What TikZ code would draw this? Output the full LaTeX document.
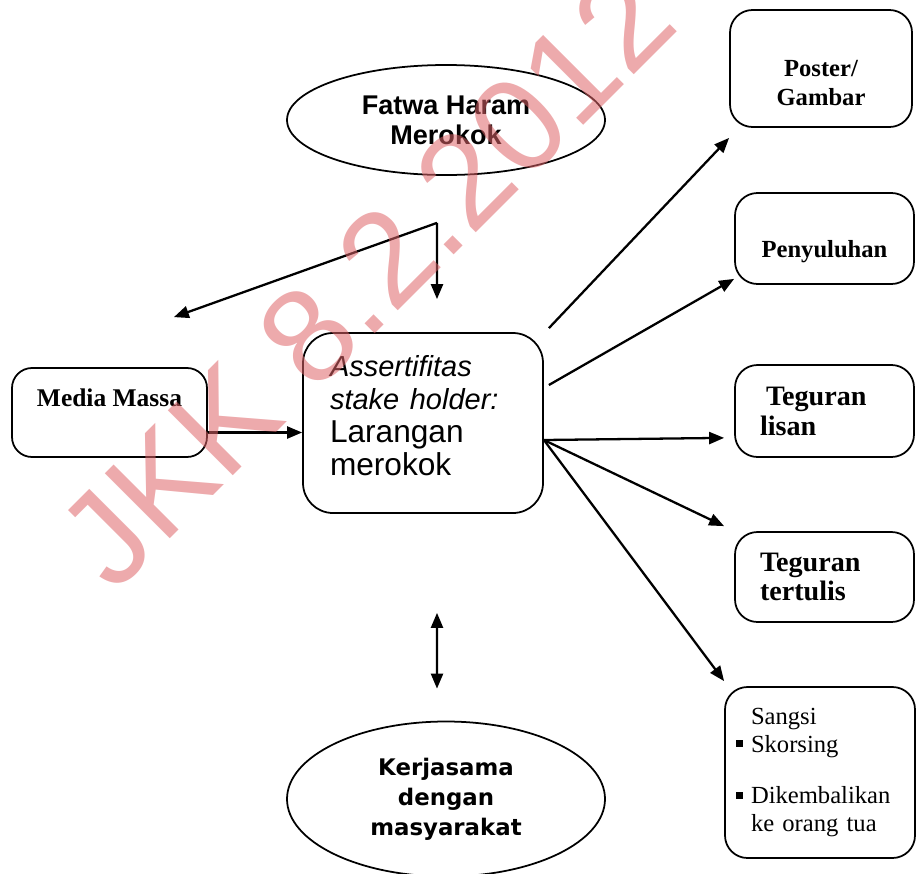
\documentclass[tikz,border=0pt]{standalone}
\usepackage{fontspec}
\setmainfont{Liberation Serif}
\setsansfont{Liberation Sans}
\newfontfamily\dejavu{DejaVu Sans}
\usetikzlibrary{positioning,shapes.geometric,arrows.meta}
\definecolor{merahmuda}{RGB}{222,100,104}
\newcommand{\butir}{\makebox[0.3cm][l]{\rule[0.45ex]{0.6ex}{0.6ex}}}

\begin{document}
\begin{tikzpicture}[
	kotak/.style={draw, line width=1pt, rounded corners=0.45cm},
	elips/.style={draw, ellipse, line width=1pt, inner sep=0pt, align=center},
	panah/.style={line width=1.3pt, -{Triangle[length=0.3cm,width=0.24cm]}},
	panahdua/.style={line width=1.3pt, {Triangle[length=0.3cm,width=0.24cm]}-{Triangle[length=0.3cm,width=0.24cm]}},
	hurufserif/.style={font=\bfseries\fontsize{14pt}{17pt}\selectfont, align=center, inner sep=0pt},
	]
	\useasboundingbox (0,0) rectangle (18.36,-17.46);
	%% tengah
	\node[elips, minimum width=6.36cm, minimum height=2.2cm, font=\sffamily\bfseries\fontsize{15.4pt}{17pt}\selectfont] (fatwa) at (8.92,-2.4) {Fatwa Haram\\Merokok};
	\node[kotak, rounded corners=0.6cm, minimum width=4.8cm, minimum height=3.6cm] (pusat) at (8.46,-8.46) {};
	\node[text width=3.72cm, inner sep=0pt, align=left, font=\sffamily\fontsize{18pt}{18.8pt}\selectfont] (pusatteks) at ([yshift=0.14cm]pusat.center) {{\fontsize{16.5pt}{18.8pt}\selectfont\itshape Assertifitas}\\{\fontsize{16.5pt}{18.8pt}\selectfont\itshape stake holder:}\\Larangan\\merokok};
	\node[elips, minimum width=6.36cm, minimum height=3.1cm, font=\dejavu\bfseries\fontsize{13pt}{17pt}\selectfont] (kerja) at (8.92,-15.98) {Kerjasama\\dengan\\masyarakat};
	%% kiri
	\node[kotak, rounded corners=0.4cm, minimum width=3.9cm, minimum height=1.78cm] (media) at (2.19,-8.25) {};
	\node[hurufserif, font=\bfseries\fontsize{14.5pt}{17pt}\selectfont] (mediateks) at ([yshift=0.29cm]media.center) {Media Massa};
	%% kanan
	\node[kotak, minimum width=3.64cm, minimum height=2.34cm] (poster) at (16.42,-1.37) {};
	\node[hurufserif] (posterteks) at ([yshift=-0.29cm]poster.center) {Poster/\\Gambar};
	\node[kotak, minimum width=3.58cm, minimum height=1.82cm] (penyuluhan) at (16.49,-4.77) {};
	\node[hurufserif] (penyuluhanteks) at ([yshift=-0.27cm]penyuluhan.center) {Penyuluhan};
	\node[kotak, minimum width=3.58cm, minimum height=1.84cm, text width=2.58cm, inner xsep=0.5cm, align=left, font=\bfseries\fontsize{16pt}{17pt}\selectfont] (lisan) at (16.49,-8.22) {\hspace*{0.12cm}Teguran\\lisan};
	\node[kotak, minimum width=3.58cm, minimum height=1.8cm, text width=2.58cm, inner xsep=0.5cm, align=left, font=\bfseries\fontsize{16pt}{17pt}\selectfont] (tertulis) at (16.49,-11.54) {Teguran\\tertulis};
	\node[kotak, minimum width=3.8cm, minimum height=3.42cm, text width=3.36cm, inner xsep=0.22cm, align=left, font=\fontsize{14pt}{15.5pt}\selectfont] (sangsi) at (16.4,-15.45) {\hspace*{0.3cm}Sangsi\\\butir Skorsing\\[14pt]\butir Dikembalikan\\\hspace*{0.3cm}ke orang tua};
	%% titik bantu
	\coordinate[below left =0.94 and 0.18 of fatwa.south] (cabang);
	\coordinate[above left =1.0 and 0.68 of media.north east] (kiri);
	\coordinate[above right =0.66 and 0.28 of pusat.north] (bawah);
	\coordinate[below right =1.98 and 0.28 of pusat.south] (dua1);
	\coordinate[above left =0.64 and 0.18 of kerja.north] (dua2);
	\coordinate[above right =0.08 and 0.1 of pusat.north east] (p1);
	\coordinate[above right =0.76 and 0.1 of pusat.east] (p2);
	\coordinate[below =0.34 of pusat.east] (hub);
	\coordinate[below =0.2 of poster.south west] (t1);
	\coordinate[above =0.12 of penyuluhan.south west] (t2);
	\coordinate[above left =0.4 and 0.2 of lisan.south west] (t3);
	\coordinate[above left =0.1 and 0.2 of tertulis.north west] (t4);
	\coordinate[above =0.1 of sangsi.north west] (t5);
	%% panah
	\draw[panah] (cabang) -- (kiri);
	\draw[panah] (cabang) -- (bawah);
	\draw[panah] ([yshift=-0.4cm]media.east) -- ([yshift=-0.4cm]media.east -| pusat.west);
	\draw[panahdua] (dua1) -- (dua2);
	\draw[panah] (p1) -- (t1);
	\draw[panah] (p2) -- (t2);
	\draw[panah] (hub) -- (t3);
	\draw[panah] (hub) -- (t4);
	\draw[panah] (hub) -- (t5);
	%% tanda air
	\node[rotate=45, text=merahmuda, opacity=0.55, font=\sffamily\fontsize{76pt}{76pt}\selectfont] (tanda) at (7.32,-5.56) {JKK 8.2.2012};
\end{tikzpicture}
\end{document}
